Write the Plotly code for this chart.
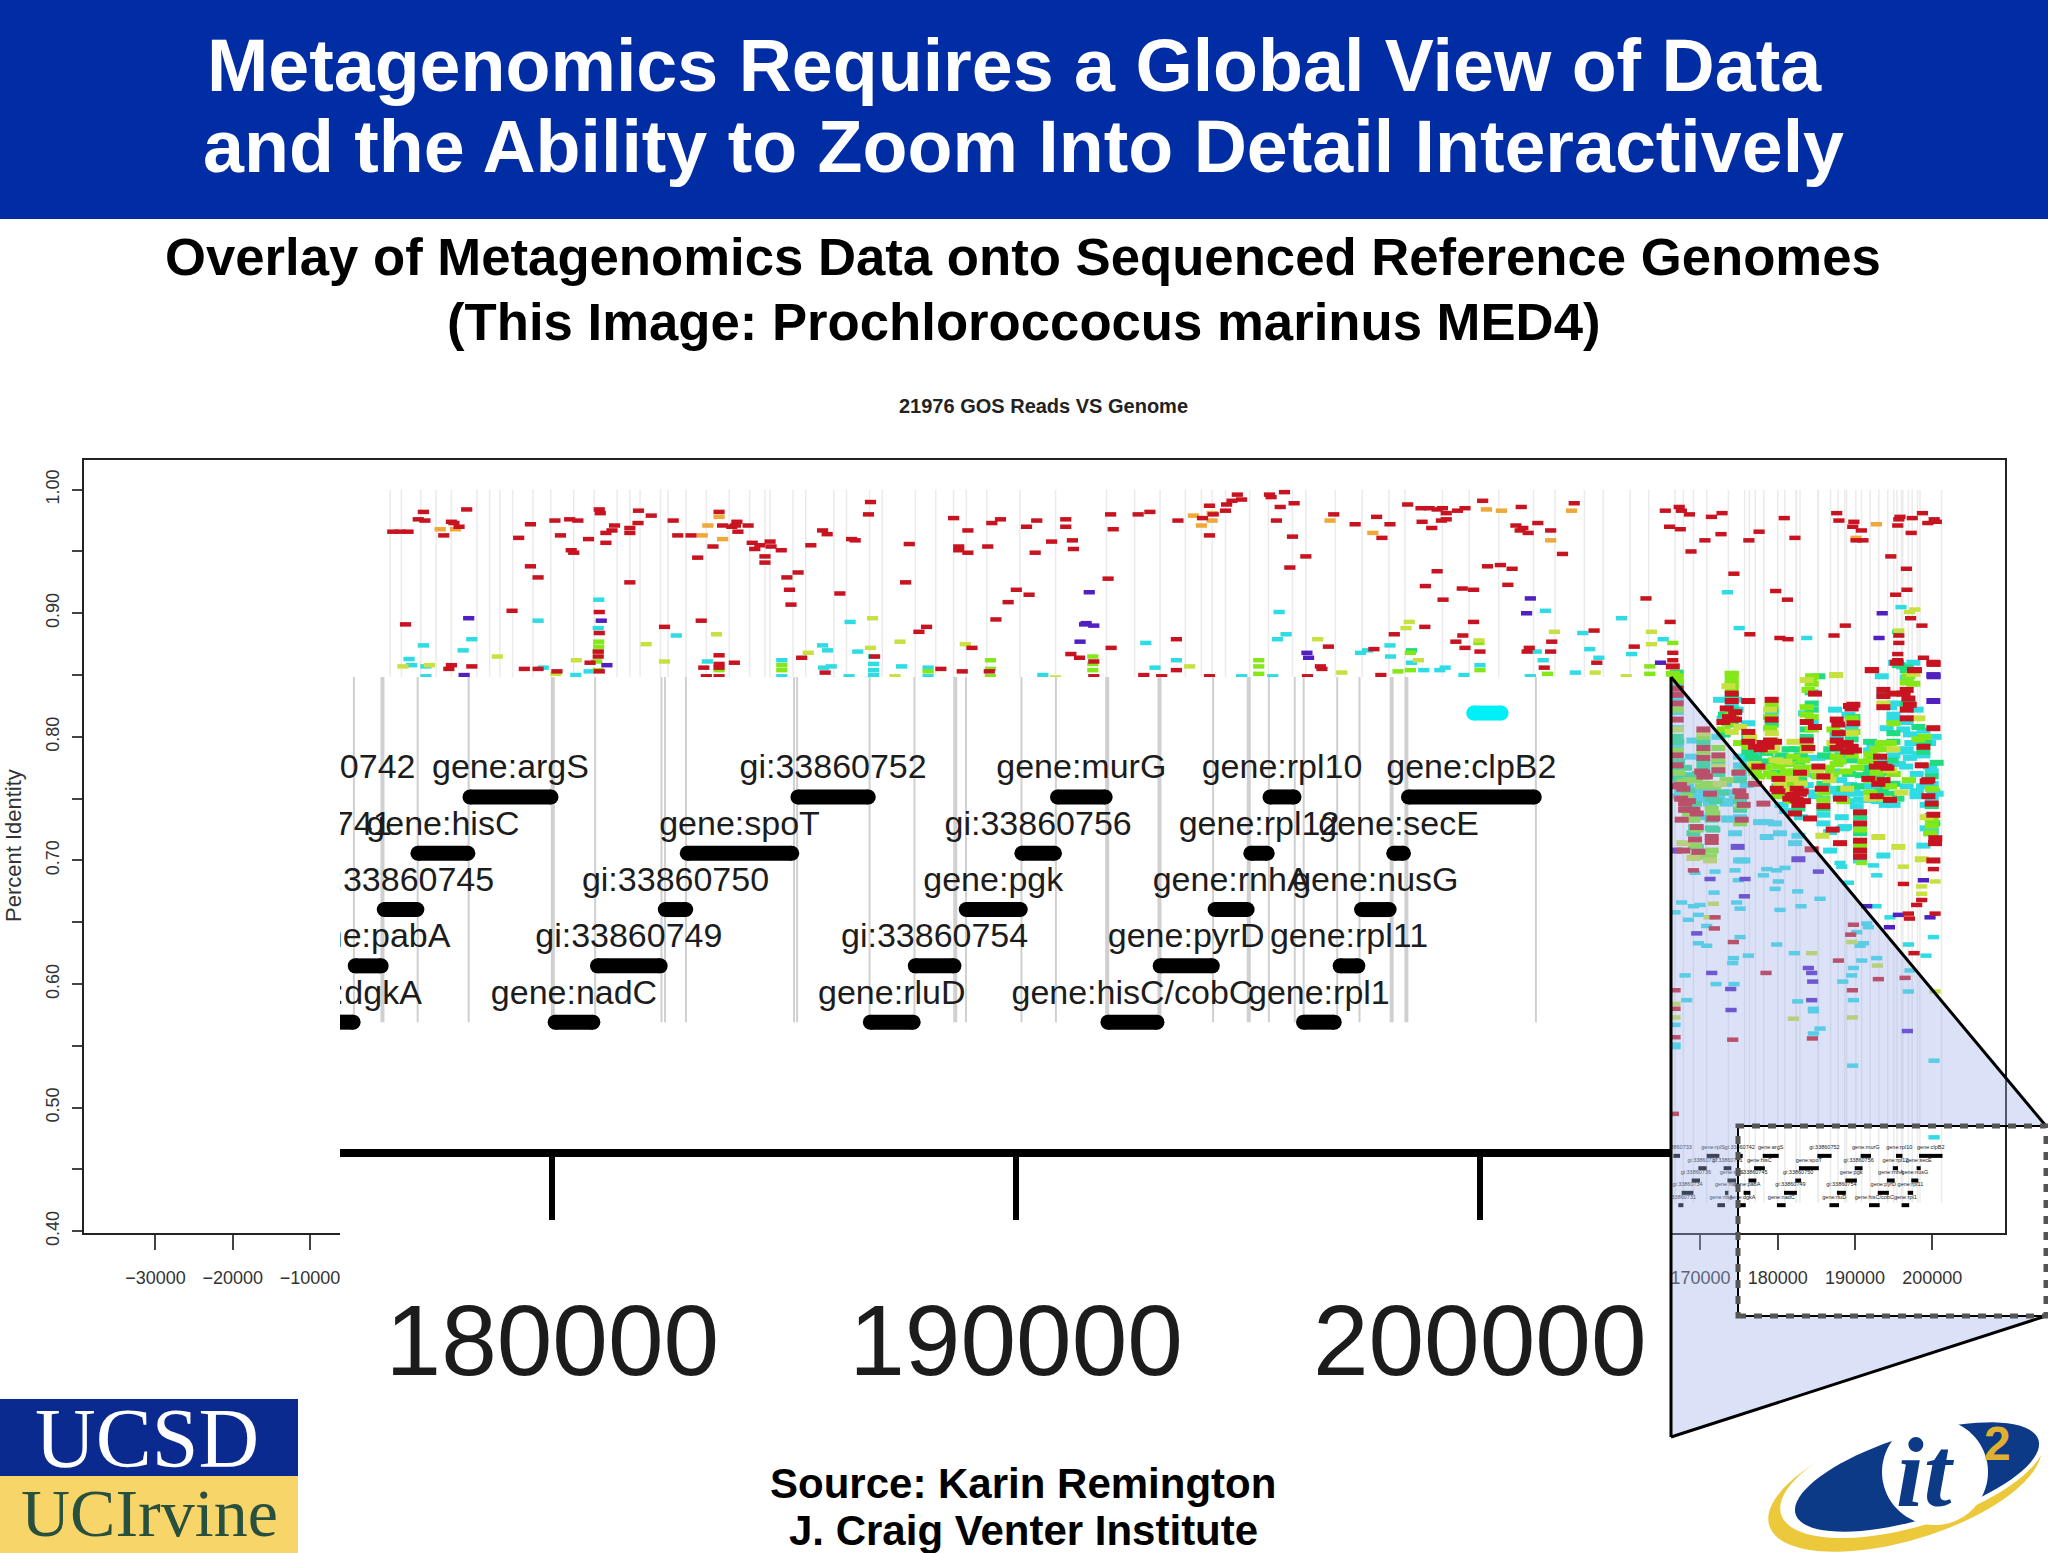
import numpy as np
import plotly.graph_objects as go

W, H = 2048, 1553

# reads: (genome position, percent identity)
red_reads = [
    (720,.966),(1710,.966),(2700,.966),(4680,.982),(4020,.976),(4880,.975),(8310,.974),(8640,.973),(10290,.984),(7320,.963),
    (9300,.970),(17020,.961),(18540,.972),(21710,.975),(23620,.976),(24680,.975),(22430,.963),(26060,.960),(27450,.984),(27580,.981),
    (28310,.965),(28310,.957),(29100,.967),(29430,.971),(31410,.965),(31410,.969),(32470,.973),(32530,.983),(34180,.979),(37020,.975),
    (37610,.963),(39330,.963),(42960,.982),(42170,.954),(40190,.945),(43420,.971),(44610,.970),(45270,.974),(45070,.971),(46720,.971),
    (45400,.966),(47250,.957),(47580,.952),(48240,.955),(49690,.954),(49560,.958),(51010,.951),(48900,.946),(48900,.941),(23820,.951),
    (24150,.949),(18540,.938),(19530,.929),(31410,.925),(51740,.929),(53190,.933),(52070,.919),(52270,.907),(54840,.955),(56360,.967),
    (56950,.964),(60120,.960),(60580,.959),(62300,.980),(62560,.990),(67580,.956),(67110,.925),(73320,.977),(75170,.967),(73980,.954),
    (73980,.951),(75170,.949),(77740,.954),(78270,.973),(79390,.976),(82760,.970),(84080,.975),(83880,.949),(86000,.958),(87840,.976),
    (87840,.970),(88700,.959),(88830,.952),(93980,.968),(93650,.980),(97210,.980),(98730,.982),(102360,.975),(81440,.919),(83090,.915),
    (80380,.909),(78800,.895),(58600,.916),(93320,.928),(2370,.891),(16160,.902),(40650,.894),(35900,.889),(68830,.885),(69820,.889),
    (75700,.872),(93710,.872),(102160,.879),(53650,.864),(44940,.860),(88500,.867),(89620,.864),(42960,.866),(7980,.855),(8310,.858),
    (10950,.857),(17750,.855),(19530,.855),(21970,.853),(26260,.860),(27450,.901),(27450,.884),(27320,.869),(27320,.865),(40980,.856),
    (42960,.859),(42960,.856),(41310,.849),(42960,.849),(56690,.852),(71670,.855),(74440,.853),(63090,.865),(77940,.853),(91470,.861),
    (91470,.849),(97940,.850),(100250,.849),(102160,.854),(27450,.853),
    (106440,.987),(108660,.988),(108520,.983),(109360,.991),(110050,.996),(110600,.992),(105540,.977),(106440,.963),(106930,.980),(114210,.996),
    (114420,.994),(116150,.998),(115600,.986),(117400,.989),(115110,.975),(117190,.962),(118920,.946),(116850,.937),(122530,.980),(125300,.972),
    (128080,.978),(129810,.972),(128770,.961),(132100,.988),(133830,.985),(134870,.985),(135910,.984),(136600,.985),(137090,.981),(138550,.983),
    (139520,.985),(133970,.974),(135220,.969),(136470,.975),(137090,.976),(141810,.991),(146800,.986),(146110,.971),(147010,.969),(146660,.967),
    (147700,.965),(148950,.973),(150610,.967),(152140,.948),(153660,.989),(135910,.934),(142430,.938),(144100,.939),(145620,.936),(134390,.922),
    (139170,.920),(140630,.919),(145070,.923),(136680,.911),(134320,.889),(140630,.893),(130370,.883),(139240,.882),(138340,.877),(139520,.872),
    (141460,.869),(147840,.872),(147560,.869),(150610,.869),(150750,.877),(156230,.886),(161430,.873),(162950,.912),(166080,.893),(127730,.871),
    (121840,.873),(120800,.857),(121000,.855),(149780,.856),(156580,.860),(119130,.849),(106440,.849),(128630,.850),(165450,.983),(167250,.986),
    (167530,.983),(168570,.980),(166010,.970),(167390,.968),(171420,.978),(172800,.981),(172660,.964),(170580,.959),(168780,.950),(176270,.959),
    (177590,.966),(180850,.977),(182230,.961),(187640,.981),(187920,.975),(189860,.974),(189720,.970),(190830,.967),(190140,.959),(191040,.959),
    (195830,.978),(195680,.976),(195540,.971),(197420,.977),(198740,.981),(200260,.976),(199430,.973),(200540,.974),(197280,.965),(194640,.946),
    (196660,.936),(174330,.932),(179740,.918),(181260,.911),(196730,.919),(195270,.915),(197210,.896),(198670,.890),(188750,.890),(187290,.882),
    (180290,.880),(181330,.879),(176400,.883),(195680,.882),(195680,.876),(195540,.867),(195540,.862),(198870,.864),(200190,.859),(192220,.854),
    (197630,.854),(166420,.868),(166420,.862),(166420,.857),
    # dense block on the right
    (166930,.839),(166930,.834),(166930,.827),(166930,.814),(166930,.785),(166930,.777),(167360,.761),(167790,.758),(168010,.746),(168010,.741),
    (167570,.733),(169090,.741),(169520,.738),(169520,.727),(169300,.717),(169730,.707),(167790,.708),(170380,.806),(170380,.791),(170380,.783),
    (170380,.771),(170380,.768),(171240,.754),(171460,.719),(171460,.715),(171670,.734),(172320,.785),(172320,.773),(172970,.812),(174050,.814),
    (173400,.823),(174480,.814),(174050,.835),(174050,.829),(176200,.829),(176200,.804),(176200,.796),(174910,.771),(175040,.756),(175340,.752),
    (175340,.733),(177070,.762),(177500,.776),(177070,.792),(178150,.795),(179010,.797),(179660,.796),(179220,.814),(179220,.830),(180090,.766),
    (180090,.756),(179870,.758),(182030,.753),(182890,.754),(182460,.758),(182680,.745),(182250,.738),(182890,.771),(183970,.791),(183760,.797),
    (183760,.812),(184830,.835),(184830,.808),(185910,.768),(185700,.758),(185910,.744),(185270,.776),(187640,.814),(187850,.810),(187640,.797),
    (187640,.791),(188930,.795),(189800,.826),(189580,.823),(189800,.811),(189580,.792),(188070,.750),(190660,.739),(190660,.730),(190660,.716),
    (190660,.708),(190660,.703),(191740,.766),(193030,.762),(193250,.784),(193900,.776),(193680,.838),(193680,.833),(192820,.752),(194540,.749),
    (194980,.835),(195410,.860),(196700,.838),(196920,.831),(196700,.822),(196700,.815),(197780,.854),(198860,.792),(198640,.777),(199290,.764),
    (199510,.752),(199940,.746),(200150,.737),(200370,.714),(200150,.807),(193680,.824),
    (166930,.760),(167500,.750),(168500,.748),(170100,.772),(170700,.768),(173700,.816),(174500,.820),(175600,.745),(177800,.790),(178700,.792),
    (181500,.750),(181810,.752),(182460,.749),(183110,.756),(183400,.748),(187900,.803),(188400,.793),(189000,.788),(189350,.825),(190000,.789),
    (192700,.776),(193300,.778),(194200,.775),(193700,.765),(196300,.835),(197100,.826),(199500,.765),(200400,.718),
    # scattered low identity
    (169090,.692),(171890,.654),(171800,.645),(174260,.634),(178490,.609),(187860,.619),(189670,.595),(193030,.604),(189800,.648),(184400,.709),
    (184190,.734),(187120,.725),(178150,.746),(188070,.714),(196270,.681),(196920,.657),(197050,.653),(200370,.657),(197650,.625),(197990,.664),
    (198640,.668),(200150,.700),(200150,.693),(174180,.555),(184490,.556),(166710,.595),(166710,.580),(166710,.557),(189450,.640),(196490,.605),
    (192170,.854),(200150,.860),(166500,.495),
]
orange_reads = [
    (6860,.968),(8840,.968),(40780,.963),(41510,.971),(42960,.978),(43420,.960),(104360,.979),(106790,.981),(106790,.975),(105400,.971),
    (122050,.975),(127590,.965),(142290,.984),(144230,.983),(153320,.983),(150610,.959),(192770,.972),(190140,.961),
]
yellow_reads = [
    (14250,.865),(24480,.862),(33520,.875),(35900,.861),(54510,.868),(62830,.896),(62560,.872),(66390,.877),(74840,.875),(42630,.883),
    (2040,.857),(21840,.851),(65730,.849),(86520,.848),(5470,.858),(103880,.857),(123570,.852),(132310,.893),(131890,.888),(120450,.879),
    (151100,.885),(163650,.885),(163650,.875),(187570,.850),(197070,.901),(197760,.903),(195680,.886),(160390,.849),(133490,.862),(141320,.878),
    (156370,.852),(173620,.841),(179010,.822),(174050,.804),(183760,.846),(176420,.800),(179440,.791),(181170,.757),(180300,.762),(185050,.773),
    (186350,.768),(193680,.827),(194540,.773),(199290,.735),(167790,.714),(169090,.702),(171240,.700),(175130,.808),(179870,.781),(187210,.795),
    (197560,.851),(171670,.665),(171110,.654),(182030,.572),(184400,.625),(192900,.615),(189580,.634),(189670,.573),(196270,.695),(195620,.711),
    (193030,.719),(185780,.720),(198640,.679),(198640,.673),(198640,.701),(200370,.683),(182030,.796),(200370,.594),(187550,.850),(166710,.584),
    (166710,.573),(166930,.806),(170380,.803),(172320,.776),(179220,.803),(181810,.766),(183760,.789),(189580,.803),(194980,.790),(198210,.815),
    (172500,.762),(177000,.778),(181000,.780),(183000,.762),(186700,.765),(189000,.758),(192000,.750),(193900,.750),(196000,.755),
]
lime_reads = [
    (27380,.877),(27380,.873),(27320,.869),(27120,.861),(27320,.854),(51080,.858),(51080,.854),(42960,.854),(78090,.862),(78090,.855),
    (78090,.849),(91340,.865),(91340,.859),(91340,.854),(70020,.853),(112820,.862),(112820,.857),(112820,.851),(132450,.868),(132450,.854),
    (130850,.853),(141460,.854),(141320,.876),(163440,.857),(163440,.851),(166420,.876),(166420,.851),(150200,.851),(174050,.851),(184450,.849),
    (166930,.849),(166930,.845),(166930,.822),(166930,.789),(167140,.771),(168010,.750),(169090,.733),(169520,.725),(169520,.703),(171240,.703),
    (171670,.738),(170380,.800),(172320,.791),(173620,.811),(174050,.846),(174050,.839),(174050,.851),(175130,.795),(175340,.744),(176420,.799),
    (179010,.816),(179010,.807),(179220,.789),(179660,.781),(180950,.762),(181380,.754),(182030,.784),(181810,.771),(183320,.781),(183760,.824),
    (183970,.838),(184190,.846),(184400,.816),(185270,.768),(185910,.749),(187210,.806),(187640,.784),(189800,.804),(190660,.725),(190880,.698),
    (191960,.781),(192820,.771),(193470,.795),(194540,.760),(194980,.811),(196920,.849),(197560,.843),(199070,.800),(199940,.733),(199720,.722),
    (179440,.768),
    (167800,.764),(168200,.752),(168500,.738),(169300,.712),(170380,.788),(171460,.742),(171460,.708),(172320,.782),(173000,.806),(174050,.843),
    (174050,.818),(175130,.752),(175130,.730),(176200,.792),(177070,.771),(179220,.826),(179220,.797),(180090,.776),(180090,.752),(181810,.748),
    (182680,.763),(182680,.748),(183760,.818),(183760,.792),(184400,.843),(184400,.806),(185910,.755),(187640,.778),(189580,.815),(189580,.785),
    (188500,.748),(190660,.712),(191960,.765),(191960,.755),(193470,.765),(194980,.770),(196700,.844),(198210,.798),(199940,.758),(199940,.728),
    (168600,.765),(169400,.765),(170200,.760),(171000,.762),(171800,.760),(173400,.765),(176800,.775),(177500,.768),(178300,.775),(179000,.770),
    (180800,.768),(181200,.772),(181500,.778),(182200,.772),(182900,.775),(183300,.770),(184000,.775),(186500,.775),(187000,.770),(188000,.780),
    (188800,.772),(190300,.775),(191200,.780),(192000,.786),(192800,.790),(193800,.790),(194500,.795),(195000,.770),(197000,.765),
]
green_reads = [
    (167360,.766),(168440,.756),(169300,.746),(169090,.722),(169520,.711),(171460,.733),(171670,.725),(170380,.795),(170380,.779),(172320,.779),
    (174050,.834),(174050,.822),(173180,.818),(175130,.765),(175130,.741),(176200,.800),(176640,.784),(179220,.822),(178580,.787),(179870,.771),
    (181810,.781),(182890,.765),(183760,.806),(184400,.827),(185910,.762),(186990,.784),(187640,.804),(189800,.816),(189580,.781),(190660,.735),
    (190660,.722),(192390,.784),(193680,.771),(194980,.803),(194760,.781),(194540,.754),(196700,.854),(196920,.827),(198210,.808),(199070,.795),
    (200150,.730),(199940,.744),(200580,.779),(132590,.870),(185270,.849),(195540,.885),(195680,.858),
    (166930,.852),(166930,.800),(166930,.775),(167000,.796),(168000,.768),(168300,.744),(169300,.727),(170380,.775),(171460,.750),(171460,.726),
    (172320,.770),(173000,.802),(174050,.810),(175130,.772),(175130,.748),(176200,.788),(177070,.782),(179220,.810),(180090,.782),(180090,.760),
    (181810,.756),(182680,.780),(182680,.742),(183760,.800),(184400,.836),(184400,.822),(185910,.742),(187640,.790),(188500,.758),(189580,.798),
    (190660,.708),(191960,.796),(191960,.772),(193470,.756),(194980,.796),(194980,.762),(196700,.826),(196700,.856),(198860,.788),(199940,.768),
    (199940,.736),
    (167100,.780),(168000,.775),(169800,.770),(172000,.748),(172800,.755),(176000,.775),(177800,.780),(178800,.780),(180500,.785),(181400,.790),
    (182300,.790),(183000,.785),(183800,.775),(186000,.785),(186800,.790),(188300,.785),(189200,.770),(190300,.760),(190900,.769),(191500,.775),
    (192400,.770),(193000,.770),(194100,.760),(195500,.750),
]
cyan_reads = [
    (27380,.911),(19530,.894),(27320,.888),(10950,.879),(4680,.874),(9830,.870),(2830,.863),(3160,.858),(5010,.857),(5010,.849),
    (37420,.882),(59920,.893),(56360,.874),(57010,.870),(60910,.869),(62960,.865),(57480,.857),(56490,.856),(59790,.849),(51080,.862),
    (51080,.849),(66590,.857),(70020,.856),(70020,.849),(98200,.876),(99390,.856),(24410,.850),(26130,.853),(20190,.856),(41440,.861),
    (62960,.859),(62960,.854),(62960,.850),(84870,.850),(102160,.862),
    (115460,.901),(116360,.883),(115250,.879),(125990,.868),(126900,.870),(129810,.874),(129880,.865),(132590,.860),(134180,.854),(136260,.854),
    (136950,.856),(139380,.850),(148740,.869),(149640,.862),(147980,.849),(149920,.902),(155670,.871),(156850,.864),(154770,.884),(159770,.896),
    (161080,.867),(165180,.879),(173490,.917),(175020,.888),(183760,.880),(195960,.905),(193470,.849),(196240,.857),(110600,.849),(114630,.849),
    (153800,.852),(141460,.858),
    (166930,.820),(166930,.807),(168870,.769),(169950,.749),(173400,.746),(173830,.748),(173620,.734),(174260,.822),(174480,.830),(172540,.830),
    (176200,.811),(166710,.768),(168650,.769),(167790,.769),(175990,.761),(175130,.777),(169730,.752),(171240,.746),(174690,.822),(183760,.761),
    (185050,.769),(185270,.783),(187420,.822),(187210,.772),(188720,.756),(189370,.761),(190230,.754),(191520,.749),(192390,.793),(191960,.789),
    (194540,.824),(195190,.827),(194980,.814),(194110,.807),(196270,.806),(197130,.802),(197990,.822),(198430,.800),(198860,.785),(199720,.776),
    (200150,.756),(200580,.754),(197990,.754),(199290,.726),(199940,.725),(198860,.712),(189150,.818),(193680,.834),(195190,.860),(197560,.860),
    (175130,.784),(173180,.762),(170380,.797),(183540,.819),(188070,.765),(190660,.749),(190230,.744),(187640,.756),(188720,.727),(190660,.700),
    (169090,.797),(168870,.784),(175130,.700),(175560,.700),(178580,.693),(179870,.692),(180950,.694),(178150,.688),(174480,.692),(171890,.691),
    (169300,.690),(174910,.684),(179660,.677),(180090,.683),(171760,.674),(182590,.675),(185480,.669),(174690,.666),(175130,.661),(167570,.666),
    (169090,.663),(169950,.664),(166710,.658),(168440,.652),(169730,.656),(170810,.647),(169730,.633),(170810,.631),(175130,.638),(179870,.632),
    (180300,.660),(183020,.663),(182160,.625),(174260,.621),(174180,.617),(176200,.623),(168010,.607),(172020,.600),(174350,.600),(168220,.587),
    (182590,.586),(184620,.580),(184620,.578),(184620,.560),(185480,.564),(189800,.587),(189800,.613),(190880,.619),(192820,.621),(189580,.607),
    (188420,.602),(196920,.594),(197130,.611),(196920,.632),(199200,.623),(200150,.638),(188070,.698),(188290,.695),(186780,.708),(189150,.682),
    (192820,.688),(193680,.704),(192390,.696),(194540,.654),(192730,.663),(196700,.760),(196620,.776),(197990,.756),(197990,.752),(191520,.649),
    (191740,.646),(190660,.631),(191090,.633),(190230,.642),(182250,.714),(182680,.720),(180300,.722),(178580,.719),(177720,.731),(178580,.731),
    (179660,.730),(173620,.733),(174480,.722),(185910,.730),(185910,.737),(188290,.735),(188500,.726),(186780,.723),(196490,.788),(197130,.783),
    (166710,.567),(166710,.549),(189710,.534),(200240,.538),(200240,.476),(166710,.551),
    (166930,.843),(166930,.830),(166930,.792),(167300,.752),(168300,.760),(168800,.742),(169700,.735),(171460,.737),(172320,.800),(173000,.815),
    (174050,.825),(175130,.768),(175130,.735),(176200,.782),(177070,.786),(179220,.818),(180090,.770),(181810,.762),(182680,.768),(183760,.783),
    (184400,.812),(185910,.750),(187640,.801),(188500,.752),(189580,.808),(190660,.726),(191960,.760),(193470,.780),(193470,.760),(194980,.818),
    (194980,.785),(196700,.848),(196700,.812),(198210,.786),(198860,.805),(199940,.772),(199940,.762),(199940,.750),(199940,.722),
    (167500,.757),(168300,.750),(169100,.757),(169900,.757),(170700,.752),(171500,.757),(172300,.752),(173000,.755),(173800,.755),(174600,.750),
    (180500,.745),(181100,.740),(183000,.735),(184000,.755),(184800,.752),(186500,.757),(187300,.758),(188000,.752),(189000,.748),(189800,.757),
    (191000,.760),(192400,.755),(193000,.748),(194000,.745),(195000,.745),(195700,.778),(196700,.790),(197300,.795),(198000,.770),(198800,.760),
    (199300,.745),(199600,.795),(200300,.800),
]
purple_reads = [
    (10550,.896),(27710,.894),(28440,.858),(9960,.850),(90880,.917),(90480,.892),(90280,.891),(89690,.877),(91470,.890),
    (119060,.868),(119270,.864),(147980,.912),(147490,.900),(164830,.860),(193530,.900),(193120,.880),(200190,.849),
    (174820,.711),(182680,.701),(185270,.691),(175770,.685),(175690,.671),(171240,.685),(200150,.850),(200150,.829),(198860,.684),(195620,.656),
    (194460,.646),(191520,.663),(184400,.609),(184530,.602),(183970,.613),(199720,.654),(166710,.708),(169520,.641),(171460,.609),(173960,.579),
    (184400,.587),(196790,.562),(173920,.596),
]

# vertical guide positions along the genome
guide_pos = [
    390,1840,4350,6330,8310,11610,13260,14580,16230,18870,21180,24150,26790,29760,31410,32730,35370,36360,38670,41310,
    44280,46920,48900,49560,52530,54180,57810,59460,62430,64080,68370,71010,73320,74970,77610,81900,86520,93120,96750,100050,
    103320,105400,106790,108520,111640,114070,117190,118920,122740,126210,129670,131750,136610,140070,143890,148390,151170,154980,157410,160880,
    163300,166710,167790,169090,170810,173620,
]
guide_thin = [175720,177095,178195,180923,182353,182430,182881,185213,185279,186841,187809,188920,190117,190859,194249,195452,196011,196203,196926,197407,201211]
guide_thick = [176336,180010,188689,191966,193093,195019,198100,198418]

# gene track: label, start, end, row
gene_labels = [
    'gene:argS','gi:33860752','gene:murG','gene:rpl10','gene:clpB2',
    'gene:hisC','gene:spoT','gi:33860756','gene:rpl12','gene:secE',
    'gi:33860745','gi:33860750','gene:pgk','gene:rnhA','gene:nusG',
    'gene:pabA','gi:33860749','gi:33860754','gene:pyrD','gene:rpl11',
    'gene:dgkA','gene:nadC','gene:rluD','gene:hisC/cobC','gene:rpl1',
]
gene_start = [
    178063,185136,190734,195317,198303,
    176941,182749,189965,194903,197985,
    176215,182276,188766,194133,197292,
    175588,180813,187666,192948,196829,
    175000,179900,186698,191822,196040,
]
gene_end = [
    180131,186973,192082,196155,201336,
    178338,185323,190988,195577,198515,
    177238,183035,190251,195144,198206,
    176468,182485,188821,194393,197532,
    175863,181033,187941,193199,197022,
]
gene_row = [1,1,1,1,1, 2,2,2,2,2, 3,3,3,3,3, 4,4,4,4,4, 5,5,5,5,5]

# genes left of the zoomed panel, only seen in the small track
left_labels = ['gi:33860733','gene:rplS','gi:33860742','gi:33860737','gi:33860741','gi:33860736','gene:trpS','gi:33860734','gene:ftsH','gi:33860731','gene:ribA']
left_start = [166500,170810,174700,169730,173000,168870,173500,167570,173180,167140,172190]
left_end = [167360,172450,175470,170810,174000,169950,174600,169085,173615,167790,173180]
left_row = [1,1,1,2,2,3,3,4,4,5,5]

cyan_bar_pos = [199870, 200460]
cyan_bar_row = [-0.49, -0.49]

x_ticks = list(range(-30000, 200001, 10000))
y_ticks = [0.40,0.45,0.50,0.55,0.60,0.65,0.70,0.75,0.80,0.85,0.90,0.95,1.00]
panel_ticks = [180000, 190000, 200000]

# the thick panel bars get round end caps that add half a width each side
CAP_BP = 160


def px(x):
    return x / W


def py(y):
    return 1 - y / H


def in_block(read):
    # the crowded pile-up at the right end draws with slightly heavier dashes
    return read[0] >= 166000 and 0.70 <= read[1] <= 0.86


def read_trace(reads, color):
    return go.Scatter(
        x=[r[0] for r in reads],
        y=[r[1] for r in reads],
        mode='markers',
        marker=dict(
            symbol='line-ew',
            opacity=1,
            size=[10 if in_block(r) else 8 for r in reads],
            line=dict(width=[6 if in_block(r) else 4.5 for r in reads], color=color),
        ),
        hoverinfo='skip',
        xaxis='x',
        yaxis='y',
    )


def vlines(positions, y0, y1, color, width, xaxis, yaxis):
    xs, ys = [], []
    for pos in positions:
        xs += [pos, pos, None]
        ys += [y0, y1, None]
    return go.Scatter(x=xs, y=ys, mode='lines', line=dict(color=color, width=width),
                      hoverinfo='skip', xaxis=xaxis, yaxis=yaxis)


def bar_trace(starts, ends, rows, width, xaxis, yaxis, color='black', round_ends=True):
    xs, ys = [], []
    for s, e, r in zip(starts, ends, rows):
        xs += [s, e, None]
        ys += [r, r, None]
    return go.Scatter(x=xs, y=ys, mode='lines+markers' if round_ends else 'lines',
                      line=dict(color=color, width=width),
                      marker=dict(size=width, color=color),
                      hoverinfo='skip', xaxis=xaxis, yaxis=yaxis)


def ellipse_path(cx, cy, a, b, angle):
    t = np.linspace(0, 2 * np.pi, 80)
    c, s = np.cos(np.radians(angle)), np.sin(np.radians(angle))
    xs = cx + a * np.cos(t) * c - b * np.sin(t) * s
    ys = cy + a * np.cos(t) * s + b * np.sin(t) * c
    return 'M' + 'L'.join(f'{px(x):.5f},{py(y):.5f}' for x, y in zip(xs, ys)) + 'Z'


def poly_path(points):
    return 'M' + 'L'.join(f'{px(x):.5f},{py(y):.5f}' for x, y in points) + 'Z'


def rect(x0, y0, x1, y1, fill):
    return dict(type='rect', xref='paper', yref='paper', x0=px(x0), x1=px(x1), y0=py(y0), y1=py(y1),
                fillcolor=fill, line=dict(width=0))


def seg(x0, y0, x1, y1, color='black', width=3, dash='solid'):
    return dict(type='line', xref='paper', yref='paper', x0=px(x0), x1=px(x1), y0=py(y0), y1=py(y1),
                line=dict(color=color, width=width, dash=dash))


def label(text, x, y, size, color='black', bold=False, family='Liberation Sans', angle=0):
    return dict(text=f'<b>{text}</b>' if bold else text, x=px(x), y=py(y), xref='paper', yref='paper',
                showarrow=False, xanchor='center', yanchor='middle', textangle=angle,
                font=dict(size=size, color=color, family=family))


# small track rows in percent identity units
all_start = gene_start + left_start
all_end = gene_end + left_end
all_row = gene_row + left_row
all_labels = gene_labels + left_labels
small_bar_y = [0.461 - (r - 1) * 0.00997 for r in all_row]
small_text_y = [y + 0.0065 for y in small_bar_y]

traces = [
    vlines(guide_pos + guide_thin + guide_thick, 0.423, 1.0, '#ebebeb', 1.5, 'x', 'y'),
    read_trace(cyan_reads, '#30dce4'),
    read_trace(green_reads, '#20dc80'),
    read_trace(lime_reads, '#84e818'),
    read_trace(yellow_reads, '#c8e040'),
    read_trace(orange_reads, '#f0a838'),
    read_trace(purple_reads, '#5020c0'),
    read_trace(red_reads, '#c81420'),
    bar_trace(all_start, all_end, small_bar_y, 4, 'x', 'y', round_ends=False),
    go.Scatter(x=[(s + e) / 2 for s, e in zip(all_start, all_end)], y=small_text_y, mode='text', text=all_labels,
               textfont=dict(size=5.5, color='#222222', family='Liberation Sans'), hoverinfo='skip', xaxis='x', yaxis='y'),
    # zoomed panel
    vlines(guide_thin, -1.13, 5.0, '#d0d0d0', 2, 'x2', 'y2'),
    vlines(guide_thick, -1.13, 5.0, '#d0d0d0', 4, 'x2', 'y2'),
    bar_trace([s + CAP_BP for s in gene_start], [e - CAP_BP for e in gene_end], gene_row, 15, 'x2', 'y2'),
    bar_trace(cyan_bar_pos[:1], cyan_bar_pos[1:], cyan_bar_row[:1], 15, 'x2', 'y2', color='#00f0f8'),
    go.Scatter(
        x=[(s + e) / 2 for s, e in zip(gene_start, gene_end)] + [175030, 174513],
        y=[r - 0.48 for r in gene_row] + [0.52, 1.52],
        mode='text', text=gene_labels + ['gi:33860742', 'gi:33860741'],
        textfont=dict(size=34, color='#1c1c1c', family='Liberation Sans'),
        hoverinfo='skip', xaxis='x2', yaxis='y2',
    ),
]

fig = go.Figure(data=traces)

tick_font = dict(size=18, color='#333333', family='Liberation Sans')
fig.update_layout(
    width=W,
    height=H,
    margin=dict(l=0, r=0, t=0, b=0, pad=0, autoexpand=False),
    paper_bgcolor='white',
    plot_bgcolor='white',
    showlegend=False,
    xaxis=dict(
        domain=[px(84), px(2005)], range=[-39250, 209425], anchor='y',
        tickmode='array', tickvals=x_ticks, ticktext=[str(v).replace('-', '\u2212') for v in x_ticks],
        tickangle=0, ticks='outside', ticklen=15, tickwidth=2, tickcolor='#444444',
        ticklabelstandoff=12, tickfont=tick_font, showgrid=False, zeroline=False,
        showline=True, linewidth=2, linecolor='#222222', mirror=True,
    ),
    yaxis=dict(
        domain=[py(1233), py(460)], range=[0.3986, 1.024], anchor='x',
        tickmode='array', tickvals=y_ticks,
        ticktext=[f'{v:.2f}' if round(v * 100) % 10 == 0 else '' for v in y_ticks],
        tickangle=-90, ticks='outside', ticklen=10, tickwidth=2, tickcolor='#444444',
        ticklabelstandoff=6, tickfont=tick_font, showgrid=False, zeroline=False,
        showline=True, linewidth=2, linecolor='#222222', mirror=True,
    ),
    xaxis2=dict(
        domain=[px(340), px(1671)], range=[175420, 204125], anchor='free', position=py(1153),
        tickmode='array', tickvals=panel_ticks, ticktext=[str(v) for v in panel_ticks],
        tickangle=0, ticks='outside', ticklen=63, tickwidth=6, tickcolor='black',
        ticklabelstandoff=35, tickfont=dict(size=100, color='#1c1c1c', family='Liberation Sans'),
        showgrid=False, zeroline=False, showline=True, linewidth=8, linecolor='black',
    ),
    yaxis2=dict(
        domain=[py(1400), py(677)], range=[11.71, -1.13], anchor='x2',
        visible=False, showgrid=False, zeroline=False,
    ),
)

shapes = [
    rect(0, 0, W, 219, '#002ca4'),
    # blue wedge leading to the zoomed view
    dict(type='path', xref='paper', yref='paper', fillcolor='rgba(160,180,235,0.38)', line=dict(width=0),
         path=poly_path([(1671, 677), (2046, 1126), (1738, 1126), (1738, 1316), (2046, 1316), (1671, 1437)])),
    seg(1671, 677, 2046, 1126),
    seg(1671, 1437, 2046, 1316),
    seg(1671, 677, 1671, 1437),
    seg(1738, 1126, 2046, 1126, width=2),
    seg(1738, 1126, 1738, 1316, width=2),
    seg(1738, 1316, 2046, 1316, width=2),
    dict(type='rect', xref='paper', yref='paper', x0=px(1738), x1=px(2046), y0=py(1316), y1=py(1126),
         line=dict(color='#555555', width=5, dash='8px,8px')),
    # logos
    rect(0, 1399, 298, 1476, '#0a2a90'),
    rect(0, 1476, 298, 1553, '#f8d568'),
]
for cx, cy, a, b, ang, fill in [
    (1905, 1484, 142, 56, -17, '#ecc93a'),
    (1913, 1474, 138, 52, -17, 'white'),
    (1917, 1477, 127, 42, -17, '#0c3a86'),
    (1935, 1472, 53, 53, 0, 'white'),
]:
    shapes.append(dict(type='path', xref='paper', yref='paper', path=ellipse_path(cx, cy, a, b, ang),
                       fillcolor=fill, line=dict(width=0)))
fig.update_layout(shapes=shapes)

fig.update_layout(annotations=[
    label('Metagenomics Requires a Global View of Data', 1014, 65, 73.6, 'white', True),
    label('and the Ability to Zoom Into Detail Interactively', 1023, 147, 73.6, 'white', True),
    label('Overlay of Metagenomics Data onto Sequenced Reference Genomes', 1023, 257, 52.7, 'black', True),
    label('(This Image: Prochloroccocus marinus MED4)', 1024, 321, 52.7, 'black', True),
    label('21976 GOS Reads VS Genome', 1043, 406, 20, '#222222', True),
    label('Percent Identity', 13, 846, 22, '#333333', angle=-90),
    label('Source: Karin Remington', 1023, 1483, 42, 'black', True),
    label('J. Craig Venter Institute', 1023, 1530, 42, 'black', True),
    label('UCSD', 147, 1438, 84, 'white', False, 'Liberation Serif'),
    label('UCIrvine', 149, 1513, 68, '#27503e', False, 'Liberation Serif'),
    label('<b><i>it</i></b>', 1925, 1472, 100, '#0c3a86', False, 'Liberation Serif'),
    label('<b>2</b>', 1997, 1443, 48, '#e0b030', False, 'Liberation Sans'),
])

fig.write_html('out.html', config=dict(displayModeBar=False), post_script="document.body.style.margin='0'")
